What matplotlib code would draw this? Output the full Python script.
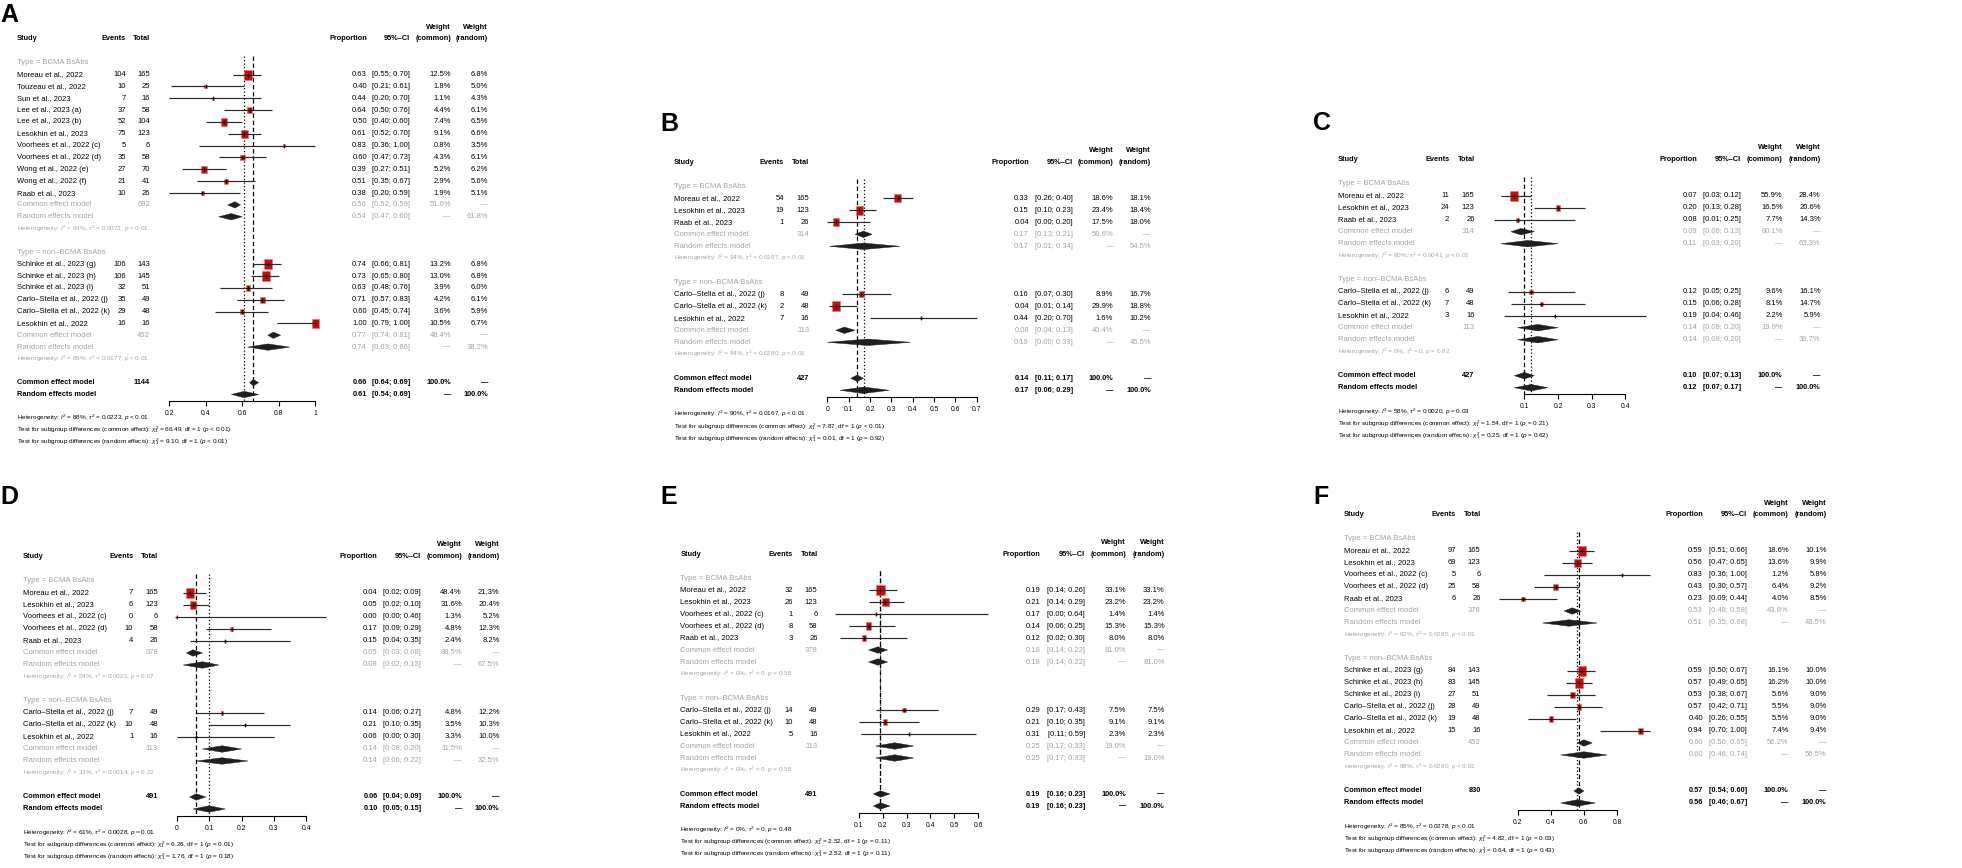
import numpy as np
import matplotlib
matplotlib.use('Agg')
import matplotlib.pyplot as plt
import matplotlib.transforms as mtransforms
from matplotlib.patches import Rectangle, Polygon

plt.rcParams['font.family'] = ['Liberation Sans', 'DejaVu Sans']
plt.rcParams['mathtext.fontset'] = 'custom'
plt.rcParams['mathtext.rm'] = 'Liberation Sans'
plt.rcParams['mathtext.it'] = 'Liberation Sans:italic'
plt.rcParams['mathtext.bf'] = 'Liberation Sans:bold'

GROUPS = ['BCMA BsAbs', 'non–BCMA BsAbs']

# ---------------- panel A
A_study = ['Moreau et al., 2022', 'Touzeau et al., 2022', 'Sun et al., 2023',
           'Lee et al., 2023 (a)', 'Lee et al., 2023 (b)', 'Lesokhin et al., 2023',
           'Voorhees et al., 2022 (c)', 'Voorhees et al., 2022 (d)',
           'Wong et al., 2022 (e)', 'Wong et al., 2022 (f)', 'Raab et al., 2023',
           'Schinke et al., 2023 (g)', 'Schinke et al., 2023 (h)', 'Schinke et al., 2023 (i)',
           'Carlo–Stella et al., 2022 (j)', 'Carlo–Stella et al., 2022 (k)',
           'Lesokhin et al., 2022']
A_group = [0, 0, 0, 0, 0, 0, 0, 0, 0, 0, 0, 1, 1, 1, 1, 1, 1]
A_events = [104, 10, 7, 37, 52, 75, 5, 35, 27, 21, 10, 106, 106, 32, 35, 29, 16]
A_total = [165, 25, 16, 58, 104, 123, 6, 58, 70, 41, 26, 143, 145, 51, 49, 48, 16]
A_prop = [0.63, 0.40, 0.44, 0.64, 0.50, 0.61, 0.83, 0.60, 0.39, 0.51, 0.38,
          0.74, 0.73, 0.63, 0.71, 0.60, 1.00]
A_lo = [0.55, 0.21, 0.20, 0.50, 0.40, 0.52, 0.36, 0.47, 0.27, 0.35, 0.20,
        0.66, 0.65, 0.48, 0.57, 0.45, 0.79]
A_hi = [0.70, 0.61, 0.70, 0.76, 0.60, 0.70, 1.00, 0.73, 0.51, 0.67, 0.59,
        0.81, 0.80, 0.76, 0.83, 0.74, 1.00]
A_wc = [12.5, 1.8, 1.1, 4.4, 7.4, 9.1, 0.8, 4.3, 5.2, 2.9, 1.9, 13.2, 13.0, 3.9, 4.2, 3.6, 10.5]
A_wr = [6.8, 5.0, 4.3, 6.1, 6.5, 6.6, 3.5, 6.1, 6.2, 5.6, 5.1, 6.8, 6.8, 6.0, 6.1, 5.9, 6.7]
# pooled rows: BCMA, non-BCMA, overall
A_n = [692, 452, 1144]
A_common = [(0.56, 0.52, 0.59), (0.77, 0.74, 0.81), (0.66, 0.64, 0.69)]
A_random = [(0.54, 0.47, 0.60), (0.74, 0.63, 0.86), (0.61, 0.54, 0.69)]
A_wc_pool = [51.6, 48.4, 100.0]
A_wr_pool = [61.8, 38.2, 100.0]
A_i2 = [64, 89, 88]
A_tau2 = ['0.0072', '0.0177', '0.0223']
A_phet = ['< 0.01', '< 0.01', '< 0.01']
A_chi2 = [('66.49', '< 0.01'), ('9.10', '< 0.01')]

# ---------------- panel B
B_study = ['Moreau et al., 2022', 'Lesokhin et al., 2023', 'Raab et al., 2023',
           'Carlo–Stella et al., 2022 (j)', 'Carlo–Stella et al., 2022 (k)',
           'Lesokhin et al., 2022']
B_group = [0, 0, 0, 1, 1, 1]
B_events = [54, 19, 1, 8, 2, 7]
B_total = [165, 123, 26, 49, 48, 16]
B_prop = [0.33, 0.15, 0.04, 0.16, 0.04, 0.44]
B_lo = [0.26, 0.10, 0.00, 0.07, 0.01, 0.20]
B_hi = [0.40, 0.23, 0.20, 0.30, 0.14, 0.70]
B_wc = [18.6, 23.4, 17.5, 8.9, 29.9, 1.6]
B_wr = [18.1, 18.4, 18.0, 16.7, 18.8, 10.2]
B_n = [314, 113, 427]
B_common = [(0.17, 0.13, 0.21), (0.08, 0.04, 0.13), (0.14, 0.11, 0.17)]
B_random = [(0.17, 0.01, 0.34), (0.19, 0.00, 0.39), (0.17, 0.06, 0.29)]
B_wc_pool = [59.6, 40.4, 100.0]
B_wr_pool = [54.5, 45.5, 100.0]
B_i2 = [94, 84, 90]
B_tau2 = ['0.0197', '0.0280', '0.0167']
B_phet = ['< 0.01', '< 0.01', '< 0.01']
B_chi2 = [('7.87', '< 0.01'), ('0.01', '= 0.92')]

# ---------------- panel C
C_study = ['Moreau et al., 2022', 'Lesokhin et al., 2023', 'Raab et al., 2023',
           'Carlo–Stella et al., 2022 (j)', 'Carlo–Stella et al., 2022 (k)',
           'Lesokhin et al., 2022']
C_group = [0, 0, 0, 1, 1, 1]
C_events = [11, 24, 2, 6, 7, 3]
C_total = [165, 123, 26, 49, 48, 16]
C_prop = [0.07, 0.20, 0.08, 0.12, 0.15, 0.19]
C_lo = [0.03, 0.13, 0.01, 0.05, 0.06, 0.04]
C_hi = [0.12, 0.28, 0.25, 0.25, 0.28, 0.46]
C_wc = [55.9, 16.5, 7.7, 9.6, 8.1, 2.2]
C_wr = [28.4, 20.6, 14.3, 16.1, 14.7, 5.9]
C_n = [314, 113, 427]
C_common = [(0.09, 0.06, 0.13), (0.14, 0.08, 0.20), (0.10, 0.07, 0.13)]
C_random = [(0.11, 0.03, 0.20), (0.14, 0.08, 0.20), (0.12, 0.07, 0.17)]
C_wc_pool = [80.1, 19.9, 100.0]
C_wr_pool = [63.3, 36.7, 100.0]
C_i2 = [80, 0, 58]
C_tau2 = ['0.0041', '0', '0.0020']
C_phet = ['< 0.01', '= 0.82', '= 0.03']
C_chi2 = [('1.54', '= 0.21'), ('0.25', '= 0.62')]

# ---------------- panel D
D_study = ['Moreau et al., 2022', 'Lesokhin et al., 2023', 'Voorhees et al., 2022 (c)',
           'Voorhees et al., 2022 (d)', 'Raab et al., 2023',
           'Carlo–Stella et al., 2022 (j)', 'Carlo–Stella et al., 2022 (k)',
           'Lesokhin et al., 2022']
D_group = [0, 0, 0, 0, 0, 1, 1, 1]
D_events = [7, 6, 0, 10, 4, 7, 10, 1]
D_total = [165, 123, 6, 58, 26, 49, 48, 16]
D_prop = [0.04, 0.05, 0.00, 0.17, 0.15, 0.14, 0.21, 0.06]
D_lo = [0.02, 0.02, 0.00, 0.09, 0.04, 0.06, 0.10, 0.00]
D_hi = [0.09, 0.10, 0.46, 0.29, 0.35, 0.27, 0.35, 0.30]
D_wc = [48.4, 31.6, 1.3, 4.8, 2.4, 4.8, 3.5, 3.3]
D_wr = [21.3, 20.4, 5.2, 12.3, 8.2, 12.2, 10.3, 10.0]
D_n = [378, 113, 491]
D_common = [(0.05, 0.03, 0.08), (0.14, 0.08, 0.20), (0.06, 0.04, 0.09)]
D_random = [(0.08, 0.02, 0.13), (0.14, 0.06, 0.22), (0.10, 0.05, 0.15)]
D_wc_pool = [88.5, 11.5, 100.0]
D_wr_pool = [67.5, 32.5, 100.0]
D_i2 = [54, 33, 61]
D_tau2 = ['0.0021', '0.0014', '0.0028']
D_phet = ['= 0.07', '= 0.22', '= 0.01']
D_chi2 = [('6.26', '= 0.01'), ('1.76', '= 0.18')]

# ---------------- panel E
E_study = ['Moreau et al., 2022', 'Lesokhin et al., 2023', 'Voorhees et al., 2022 (c)',
           'Voorhees et al., 2022 (d)', 'Raab et al., 2023',
           'Carlo–Stella et al., 2022 (j)', 'Carlo–Stella et al., 2022 (k)',
           'Lesokhin et al., 2022']
E_group = [0, 0, 0, 0, 0, 1, 1, 1]
E_events = [32, 26, 1, 8, 3, 14, 10, 5]
E_total = [165, 123, 6, 58, 26, 49, 48, 16]
E_prop = [0.19, 0.21, 0.17, 0.14, 0.12, 0.29, 0.21, 0.31]
E_lo = [0.14, 0.14, 0.00, 0.06, 0.02, 0.17, 0.10, 0.11]
E_hi = [0.26, 0.29, 0.64, 0.25, 0.30, 0.43, 0.35, 0.59]
E_wc = [33.1, 23.2, 1.4, 15.3, 8.0, 7.5, 9.1, 2.3]
E_wr = [33.1, 23.2, 1.4, 15.3, 8.0, 7.5, 9.1, 2.3]
E_n = [378, 113, 491]
E_common = [(0.18, 0.14, 0.22), (0.25, 0.17, 0.33), (0.19, 0.16, 0.23)]
E_random = [(0.18, 0.14, 0.22), (0.25, 0.17, 0.33), (0.19, 0.16, 0.23)]
E_wc_pool = [81.0, 19.0, 100.0]
E_wr_pool = [81.0, 19.0, 100.0]
E_i2 = [0, 0, 0]
E_tau2 = ['0', '0', '0']
E_phet = ['= 0.58', '= 0.58', '= 0.48']
E_chi2 = [('2.52', '= 0.11'), ('2.52', '= 0.11')]

# ---------------- panel F
F_study = ['Moreau et al., 2022', 'Lesokhin et al., 2023', 'Voorhees et al., 2022 (c)',
           'Voorhees et al., 2022 (d)', 'Raab et al., 2023',
           'Schinke et al., 2023 (g)', 'Schinke et al., 2023 (h)', 'Schinke et al., 2023 (i)',
           'Carlo–Stella et al., 2022 (j)', 'Carlo–Stella et al., 2022 (k)',
           'Lesokhin et al., 2022']
F_group = [0, 0, 0, 0, 0, 1, 1, 1, 1, 1, 1]
F_events = [97, 69, 5, 25, 6, 84, 83, 27, 28, 19, 15]
F_total = [165, 123, 6, 58, 26, 143, 145, 51, 49, 48, 16]
F_prop = [0.59, 0.56, 0.83, 0.43, 0.23, 0.59, 0.57, 0.53, 0.57, 0.40, 0.94]
F_lo = [0.51, 0.47, 0.36, 0.30, 0.09, 0.50, 0.49, 0.38, 0.42, 0.26, 0.70]
F_hi = [0.66, 0.65, 1.00, 0.57, 0.44, 0.67, 0.65, 0.67, 0.71, 0.55, 1.00]
F_wc = [18.6, 13.6, 1.2, 6.4, 4.0, 16.1, 16.2, 5.6, 5.5, 5.5, 7.4]
F_wr = [10.1, 9.9, 5.8, 9.2, 8.5, 10.0, 10.0, 9.0, 9.0, 9.0, 9.4]
F_n = [378, 452, 830]
F_common = [(0.53, 0.48, 0.58), (0.60, 0.56, 0.65), (0.57, 0.54, 0.60)]
F_random = [(0.51, 0.35, 0.68), (0.60, 0.46, 0.74), (0.56, 0.46, 0.67)]
F_wc_pool = [43.8, 56.2, 100.0]
F_wr_pool = [43.5, 56.5, 100.0]
F_i2 = [82, 88, 85]
F_tau2 = ['0.0295', '0.0280', '0.0278']
F_phet = ['< 0.01', '< 0.01', '< 0.01']
F_chi2 = [('4.82', '= 0.03'), ('0.64', '= 0.43')]

# ---------------- layout (pixels of the 1962x868 figure)
W, H = 1962, 868
FS = 5.5        # table text
FS_B = 5.3      # bold table text
FS_HET = 4.6    # heterogeneity / test lines
FS_TICK = 4.9
GRAY = '#A3A3A3'
RED = '#CC0a0a'
DIAMOND = '#1e1e1e'

LAYOUT = {
    'A': dict(row0=39, pitch=11.85, study=17, events=126, total=150, prop=367, ci=410,
              wc=451, wr=488, x0=132.8, scale=182.5, ticks=[0.2, 0.4, 0.6, 0.8, 1.0],
              xlim=(0.15, 1.05), letter=(0, 15)),
    'B': dict(row0=162.3, pitch=12.0, study=674, events=784, total=809.3, prop=1029,
              ci=1072.7, wc=1113.3, wr=1151, x0=827.3, scale=213.3,
              ticks=[0, 0.1, 0.2, 0.3, 0.4, 0.5, 0.6, 0.7], xlim=(-0.03, 0.75), letter=(660, 124)),
    'C': dict(row0=159.7, pitch=12.0, study=1338, events=1449.3, total=1474.7, prop=1697.3,
              ci=1741, wc=1782.7, wr=1820.7, x0=1490.7, scale=336.7,
              ticks=[0.1, 0.2, 0.3, 0.4], xlim=(-0.01, 0.5), letter=(1313, 123)),
    'D': dict(row0=557, pitch=12.0, study=22.7, events=133.3, total=158, prop=377.7, ci=421,
              wc=462, wr=499.7, x0=176.7, scale=324, ticks=[0, 0.1, 0.2, 0.3, 0.4],
              xlim=(-0.02, 0.5), letter=(0, 497)),
    'E': dict(row0=554, pitch=12.0, study=680.3, events=792.7, total=817.7, prop=1040.3,
              ci=1085, wc=1126, wr=1164.7, x0=835.2, scale=238,
              ticks=[0.1, 0.2, 0.3, 0.4, 0.5, 0.6], xlim=(-0.02, 0.7), letter=(660, 497)),
    'F': dict(row0=515, pitch=12.0, study=1343.7, events=1456, total=1480.7, prop=1703,
              ci=1747, wc=1788.7, wr=1826.7, x0=1484.6, scale=165.5,
              ticks=[0.2, 0.4, 0.6, 0.8], xlim=(0.05, 1.05), letter=(1313, 497)),
}

fig = plt.figure(figsize=(W / 100, H / 100), dpi=100)


def het_text(i2, tau2, p):
    return r'Heterogeneity: $I^2$ = %d%%, $\tau^2$ = %s, $p$ %s' % (i2, tau2, p)


def forest(letter, lay, study, group, events, total, prop, lo, hi, wc, wr,
           n, common, random, wc_pool, wr_pool, i2, tau2, phet, chi2):
    pitch, row0 = lay['pitch'], lay['row0']

    # row plan: header at row 0, weight header at row -1
    plan = []
    r = 2
    for g in (0, 1):
        plan.append(('type', r, g))
        r += 1
        for i in range(len(study)):
            if group[i] == g:
                plan.append(('study', r, i))
                r += 1
        plan.append(('common', r, g))
        plan.append(('random', r + 1, g))
        plan.append(('het', r + 2, g))
        r += 4
    plan.append(('common', r, 2))
    plan.append(('random', r + 1, 2))
    r_rand = r + 1
    y_axis = r_rand + 0.55

    ymin, ymax = -1.6, r_rand + 4.7
    xl = lay['xlim']
    left_px = lay['x0'] + xl[0] * lay['scale']
    w_px = (xl[1] - xl[0]) * lay['scale']
    top_px = row0 + ymin * pitch
    bot_px = row0 + ymax * pitch
    ax = fig.add_axes([left_px / W, 1 - bot_px / H, w_px / W, (bot_px - top_px) / H])
    ax.set_xlim(*xl)
    ax.set_ylim(ymax, ymin)
    ax.patch.set_visible(False)
    for s in ('top', 'left', 'right'):
        ax.spines[s].set_visible(False)
    ticks = lay['ticks']
    ax.spines['bottom'].set_position(('data', y_axis))
    ax.spines['bottom'].set_bounds(ticks[0], ticks[-1])
    ax.spines['bottom'].set_linewidth(0.8)
    ax.set_yticks([])
    ax.set_xticks(ticks)
    ax.set_xticklabels(['%g' % t for t in ticks])
    ax.tick_params(axis='x', direction='out', length=3.6, width=0.8, pad=3,
                   labelsize=FS_TICK)

    trans = mtransforms.blended_transform_factory(fig.transFigure, ax.transData)

    def put(px, row, s, ha='right', size=None, weight='normal', **kw):
        if size is None:
            size = FS_B if weight == 'bold' else FS
        ax.text(px / W, row, s, transform=trans, ha=ha, va='center', fontsize=size,
                weight=weight, **kw)

    # header
    for key, lab in (('events', 'Events'), ('total', 'Total'), ('prop', 'Proportion'),
                     ('ci', '95%–CI'), ('wc', '(common)'), ('wr', '(random)')):
        put(lay[key], 0, lab, weight='bold')
    put(lay['wc'], -1, 'Weight', weight='bold')
    put(lay['wr'], -1, 'Weight', weight='bold')
    put(lay['study'], 0, 'Study', ha='left', weight='bold')

    # reference lines (overall estimates)
    ax.plot([common[2][0]] * 2, [1.4, y_axis], color='black', lw=0.9,
            ls=(0, (3.5, 2.2)), zorder=1)
    ax.plot([random[2][0]] * 2, [1.4, y_axis], color='black', lw=0.9,
            ls=(0, (1, 1.8)), zorder=1)

    wmax = max(wc)
    hh = 0.27
    for kind, row, k in plan:
        if kind == 'type':
            put(lay['study'], row, 'Type = ' + GROUPS[k], ha='left', color=GRAY)
        elif kind == 'study':
            put(lay['study'], row, study[k], ha='left')
            put(lay['events'], row, str(events[k]))
            put(lay['total'], row, str(total[k]))
            put(lay['prop'], row, '%.2f' % prop[k])
            put(lay['ci'], row, '[%.2f; %.2f]' % (lo[k], hi[k]))
            put(lay['wc'], row, '%.1f%%' % wc[k])
            put(lay['wr'], row, '%.1f%%' % wr[k])
            f = np.sqrt(wc[k] / wmax)
            sw = 8.3 * f / lay['scale']
            sh = 0.86 * f
            ax.add_patch(Rectangle((prop[k] - sw / 2, row - sh / 2), sw, sh,
                                   facecolor=RED, edgecolor='#e07070', lw=0.4, zorder=2))
            ax.plot([lo[k], hi[k]], [row, row], color='#2a2a2a', lw=0.85, zorder=3,
                    solid_capstyle='butt', clip_on=False)
            ax.plot([prop[k]], [row], marker='+', ms=2.6, mew=0.6, color='black', zorder=4)
        elif kind in ('common', 'random'):
            est = common[k] if kind == 'common' else random[k]
            overall = k == 2
            col = 'black' if overall else GRAY
            wt = 'bold' if overall else 'normal'
            name = 'Common effect model' if kind == 'common' else 'Random effects model'
            put(lay['study'], row, name, ha='left', color=col, weight=wt)
            if kind == 'common':
                put(lay['total'], row, str(n[k]), color=col, weight=wt)
            put(lay['prop'], row, '%.2f' % est[0], color=col, weight=wt)
            put(lay['ci'], row, '[%.2f; %.2f]' % (est[1], est[2]), color=col, weight=wt)
            if kind == 'common':
                put(lay['wc'], row, '%.1f%%' % wc_pool[k], color=col, weight=wt)
                put(lay['wr'], row, '—', color=col, weight=wt)
            else:
                put(lay['wc'], row, '—', color=col, weight=wt)
                put(lay['wr'], row, '%.1f%%' % wr_pool[k], color=col, weight=wt)
            ax.add_patch(Polygon([(est[1], row), (est[0], row - hh), (est[2], row),
                                  (est[0], row + hh)], closed=True, facecolor=DIAMOND,
                                 edgecolor=DIAMOND, lw=0.3, zorder=3))
        elif kind == 'het':
            put(lay['study'], row, het_text(i2[k], tau2[k], phet[k]), ha='left',
                color=GRAY, size=FS_HET)

    put(lay['study'], r_rand + 2, het_text(i2[2], tau2[2], phet[2]), ha='left', size=FS_HET)
    put(lay['study'], r_rand + 3,
        r'Test for subgroup differences (common effect): $\chi^2_1$ = %s, df = 1 ($p$ %s)'
        % chi2[0], ha='left', size=FS_HET)
    put(lay['study'], r_rand + 4,
        r'Test for subgroup differences (random effects): $\chi^2_1$ = %s, df = 1 ($p$ %s)'
        % chi2[1], ha='left', size=FS_HET)

    lx, ly = lay['letter']
    fig.text(lx / W, 1 - ly / H, letter, fontsize=18, weight='bold', ha='left', va='center')


forest('A', LAYOUT['A'], A_study, A_group, A_events, A_total, A_prop, A_lo, A_hi, A_wc, A_wr,
       A_n, A_common, A_random, A_wc_pool, A_wr_pool, A_i2, A_tau2, A_phet, A_chi2)
forest('B', LAYOUT['B'], B_study, B_group, B_events, B_total, B_prop, B_lo, B_hi, B_wc, B_wr,
       B_n, B_common, B_random, B_wc_pool, B_wr_pool, B_i2, B_tau2, B_phet, B_chi2)
forest('C', LAYOUT['C'], C_study, C_group, C_events, C_total, C_prop, C_lo, C_hi, C_wc, C_wr,
       C_n, C_common, C_random, C_wc_pool, C_wr_pool, C_i2, C_tau2, C_phet, C_chi2)
forest('D', LAYOUT['D'], D_study, D_group, D_events, D_total, D_prop, D_lo, D_hi, D_wc, D_wr,
       D_n, D_common, D_random, D_wc_pool, D_wr_pool, D_i2, D_tau2, D_phet, D_chi2)
forest('E', LAYOUT['E'], E_study, E_group, E_events, E_total, E_prop, E_lo, E_hi, E_wc, E_wr,
       E_n, E_common, E_random, E_wc_pool, E_wr_pool, E_i2, E_tau2, E_phet, E_chi2)
forest('F', LAYOUT['F'], F_study, F_group, F_events, F_total, F_prop, F_lo, F_hi, F_wc, F_wr,
       F_n, F_common, F_random, F_wc_pool, F_wr_pool, F_i2, F_tau2, F_phet, F_chi2)

fig.savefig('out.png', dpi=100, facecolor='white')
